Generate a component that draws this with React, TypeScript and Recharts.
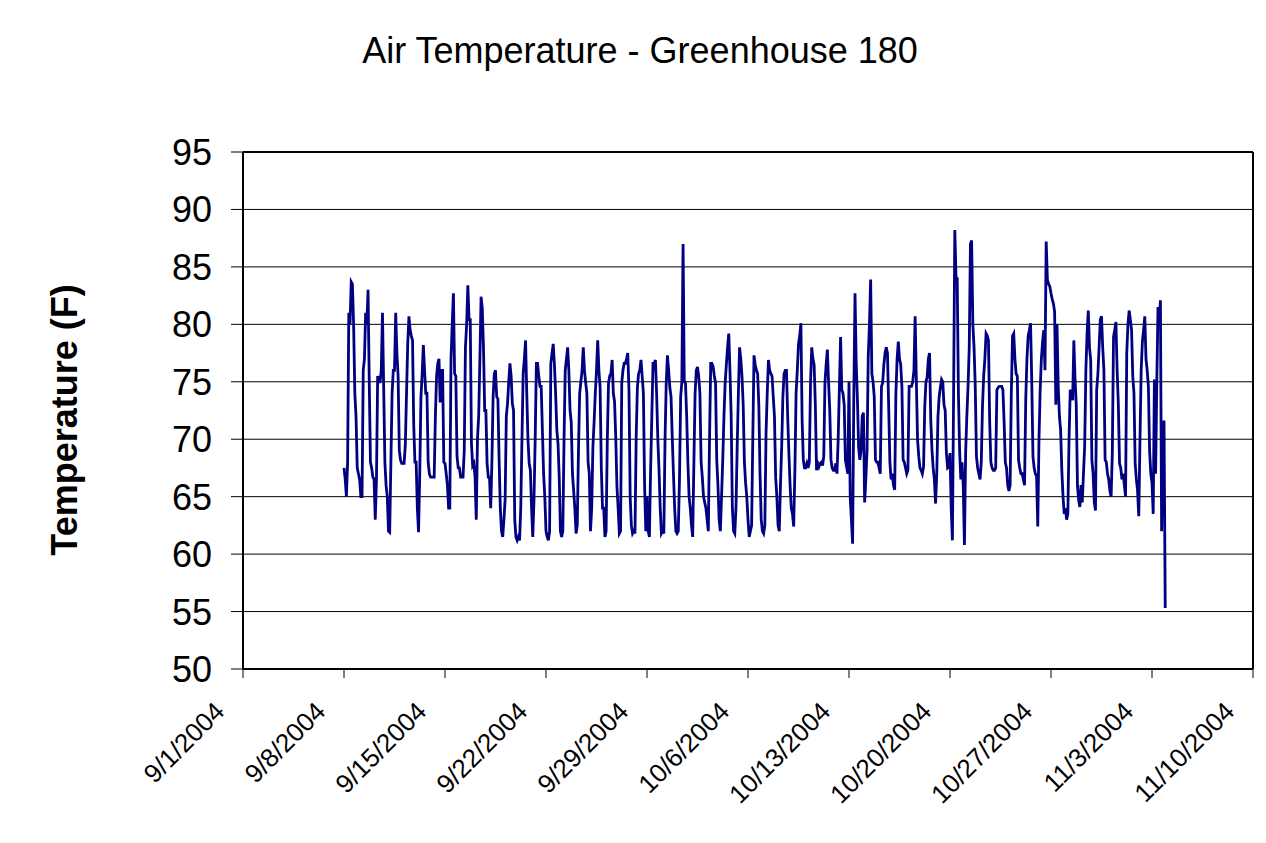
import { LineChart, Line, XAxis, YAxis, CartesianGrid, ReferenceLine } from "recharts";

// days are counted from 9/1/2004, readings every 2 hours starting 9/8 00:00
const firstDay = 7;
const stepDays = 2 / 24;

const tickDays = [0, 7, 14, 21, 28, 35, 42, 49, 56, 63, 70];
const tickLabels = [
  "9/1/2004", "9/8/2004", "9/15/2004", "9/22/2004", "9/29/2004", "10/6/2004",
  "10/13/2004", "10/20/2004", "10/27/2004", "11/3/2004", "11/10/2004",
];
const yTicks = [50, 55, 60, 65, 70, 75, 80, 85, 90, 95];

// 9/8 - 9/14
const week1 = [
  67.5, 66.5, 65, 68, 81, 80, 83.7, 83.5, 80, 74, 72, 67.5,
  67, 66.5, 65, 65, 76, 77, 81, 80, 83, 75, 68, 67.5,
  66.7, 66.5, 63, 66.5, 75.5, 75, 75, 76, 81, 74.5, 68, 66,
  65, 62, 61.9, 68, 74, 76, 76, 81, 77.5, 75.5, 69, 68.2,
  67.9, 67.9, 67.9, 69.5, 74, 78.3, 80.7, 79.5, 79, 78.6, 71.2, 68,
  68, 64, 61.9, 67, 73.7, 75.7, 78.2, 76, 74, 74, 68, 67,
  66.7, 66.7, 66.7, 66.7, 72, 75.5, 76.6, 77, 73.2, 76, 76, 68,
];
// 9/15 - 9/21
const week2 = [
  67.9, 67, 66, 64, 64, 77, 80, 82.7, 75.7, 75.5, 68.5, 67.5,
  67.5, 66.7, 66.7, 66.7, 69, 78, 80, 83.4, 80.4, 80.4, 69.6, 67.7,
  67.9, 66.7, 63, 70, 72, 76.9, 82.4, 81.4, 78, 72.5, 72.5, 67.9,
  66.7, 66.7, 64, 68, 73.7, 75.7, 76, 73.7, 73.5, 68.2, 64, 62,
  61.5, 63, 64.7, 72, 73.1, 75, 76.6, 75.5, 73.1, 72.5, 63, 61.5,
  61.2, 61.5, 61.2, 64, 70, 75.7, 77, 78.6, 74, 70, 67.9, 67.3,
  64, 61.5, 64.7, 70, 76.6, 76.6, 75.5, 74.6, 74.6, 70.8, 67, 65,
];
// 9/22 - 9/28
const week3 = [
  62, 61.5, 61.2, 62, 76.6, 77.5, 78.3, 76.5, 74, 70.8, 69.6, 66.7,
  62, 61.5, 62, 70, 76, 77, 78, 76, 72.5, 71.5, 67, 65.5,
  64, 61.8, 62.5, 69, 74, 75, 76, 78, 76, 74.9, 74, 68,
  67, 62, 64, 69.3, 71.5, 74, 76, 78.6, 76, 74.5, 67.5, 64,
  64, 61.5, 62, 70, 74.9, 75.5, 75.7, 76.9, 74, 73.3, 70.2, 65.9,
  64, 61.8, 62, 74.9, 76, 76.6, 76.6, 77, 77.5, 74.3, 65, 62.5,
  61.8, 62, 61.8, 70.2, 74.5, 75.7, 76, 76.9, 75.5, 74, 66, 62,
];
// 9/29 - 10/5
const week4 = [
  65, 62, 61.5, 67.3, 72, 76.6, 76.6, 76.9, 74, 70, 67.3, 64,
  61.8, 62, 61.8, 70, 74.9, 77.3, 76, 74.5, 73.7, 70.2, 67, 64,
  62, 61.8, 62, 66.4, 73.7, 75, 87, 75, 74.9, 72, 68, 65,
  64, 62.5, 61.5, 68, 74, 76, 76.3, 75.5, 74, 68, 66.7, 65,
  64.5, 64, 63, 62, 70, 76.6, 76.6, 76.3, 75.5, 74.9, 68.2, 66,
  63, 62, 65, 68.2, 72, 74.9, 76.5, 78, 79.2, 76, 72, 64,
  62, 61.8, 64, 69.3, 74, 78, 77, 75.5, 73, 68, 66.2, 65,
];
// 10/6 - 10/12
const week5 = [
  63, 61.5, 62, 62.5, 70.2, 77.3, 76.5, 76, 75.7, 73, 67, 63,
  62, 61.8, 62.5, 70.5, 74, 76.9, 76, 75.7, 75.5, 73.7, 72, 66.7,
  65, 62.5, 62, 66, 69.3, 73.7, 75.7, 76, 76, 72, 68.8, 66,
  64, 63.5, 62.4, 67.3, 74, 76, 78.3, 79, 80.1, 71.7, 68.2, 67.5,
  67.5, 67.9, 67.5, 68, 74.9, 78, 77, 76.5, 73, 67.3, 67.9, 67.6,
  67.9, 68, 67.7, 68.5, 74.9, 76.5, 77.8, 75, 72.5, 68.2, 67.5, 67.3,
  67.3, 67.9, 67, 70, 74.5, 78.9, 74.3, 74, 73, 68.2, 67.6, 67,
];
// 10/13 - 10/19
const week6 = [
  75, 65, 63, 60.9, 73.7, 82.7, 76.6, 73.5, 69.3, 68.2, 69, 72,
  72.3, 64.5, 66.5, 69, 77.2, 80, 83.9, 75.7, 75, 73.7, 68.2, 68,
  68, 67.5, 67, 74.6, 74.9, 76.5, 77.5, 78, 77.5, 72.8, 68, 66.5,
  67, 66, 65.6, 74, 77, 78.5, 77, 76.5, 74.6, 68.2, 68, 67.5,
  67, 67.3, 74.6, 74.6, 74.6, 75, 76, 80.7, 75.2, 70, 68.5, 67.5,
  67.3, 67, 67.6, 72.8, 75, 75.4, 77, 77.5, 71.7, 69.1, 67.5, 66.5,
  64.4, 67, 72, 73.7, 74.5, 75.2, 75, 73, 72.5, 68.8, 67.5, 67.6,
];
// 10/20 - 10/26
const week7 = [
  68.8, 64, 61.2, 74, 88.2, 84.1, 84, 74, 69, 66.5, 68, 66,
  60.8, 68.8, 72, 74.6, 78, 87, 87.3, 80, 78, 74.6, 68.5, 67.5,
  67, 66.5, 68, 72.8, 75.5, 77, 79.2, 79, 78.6, 71.5, 68, 67.5,
  67.3, 67.3, 67.5, 74.3, 74.5, 74.6, 74.6, 74.6, 74.3, 71.5, 68, 67.5,
  66, 65.5, 66, 74, 79, 79.2, 77, 75.7, 75.5, 68.2, 67.5, 67,
  67, 66.5, 66, 73.5, 77, 79, 79.5, 80.1, 75, 68.5, 67.5, 67,
  66.8, 62.4, 70, 74.3, 77, 78.5, 79.5, 76, 87.2, 83.9, 83.5, 83.3,
];
// 10/27 - 11/2
const week8 = [
  82.7, 82.2, 81.8, 81.1, 73, 80, 74.6, 72, 70.8, 67.3, 65, 63.5,
  64, 63, 63.5, 70, 74.3, 74, 73.4, 78.6, 75.2, 73, 66, 64.7,
  64.1, 66, 64.5, 67, 69.4, 76, 79.2, 81.2, 78, 76.9, 68.2, 67,
  64.5, 63.8, 74.3, 75.7, 78, 80.4, 80.7, 78, 76, 68.2, 68, 67,
  66.5, 65.5, 65, 68.8, 78.9, 79.5, 80.2, 76, 73, 67.9, 67.5, 66.5,
  67, 66, 65, 77.5, 80, 81.2, 80.4, 79.5, 75.5, 74, 67.9, 66.5,
  65.5, 63.3, 70, 76, 78.5, 79.5, 80.7, 77, 76, 74.6, 69, 67,
];
// 11/3
const week9 = [66.2, 63.5, 75.2, 67, 75, 81.5, 80, 82.1, 62, 71.5, 71.5, 55.3];

const temps = [...week1, ...week2, ...week3, ...week4, ...week5, ...week6, ...week7, ...week8, ...week9];
const data = temps.map((t, i) => ({ day: firstDay + i * stepDays, temp: t }));

const font = "'Liberation Sans', Arial, sans-serif";

function XTick(props: any) {
  const { x, y, payload } = props;
  const label = tickLabels[tickDays.indexOf(payload.value)];
  const ax = x - 17;
  const ay = y + 33;
  return (
    <text x={ax} y={ay} textAnchor="end" fontSize={26} fontFamily={font} fill="#000"
      transform={`rotate(-45, ${ax}, ${ay})`}>
      {label}
    </text>
  );
}

function YTick(props: any) {
  const { x, y, payload } = props;
  return (
    <text x={x - 17} y={y + 13} textAnchor="end" fontSize={36} fontFamily={font} fill="#000">
      {payload.value}
    </text>
  );
}

export default function App() {
  return (
    <div style={{ margin: -8, width: 1266, height: 843, position: "relative", overflow: "hidden", background: "#fff" }}>
      <div style={{ position: "absolute", left: 5, top: 2, width: 1400, height: 1000, border: "2px solid #000" }} />
      <LineChart width={1266} height={843} data={data} margin={{ top: 152, right: 13, left: 0, bottom: 0 }}>
        <CartesianGrid vertical={false} stroke="#000" strokeWidth={1} />
        <XAxis
          dataKey="day"
          type="number"
          domain={[0, 70]}
          ticks={tickDays}
          interval={0}
          height={174}
          tickSize={9}
          tick={<XTick />}
          axisLine={{ stroke: "#000", strokeWidth: 2 }}
          tickLine={{ stroke: "#000" }}
        />
        <YAxis
          domain={[50, 95]}
          ticks={yTicks}
          interval={0}
          width={243}
          tickSize={12}
          tick={<YTick />}
          axisLine={{ stroke: "#000", strokeWidth: 2 }}
          tickLine={{ stroke: "#000" }}
        />
        <ReferenceLine x={70} stroke="#000" strokeWidth={2} />
        <ReferenceLine y={95} stroke="#000" strokeWidth={2} />
        <Line
          type="linear"
          dataKey="temp"
          stroke="#000080"
          strokeWidth={2.8}
          dot={false}
          isAnimationActive={false}
        />
      </LineChart>
      <svg width={1266} height={843} style={{ position: "absolute", left: 0, top: 0, pointerEvents: "none" }}>
        <text x={640} y={63} textAnchor="middle" fontSize={36} fontFamily={font} fill="#000">
          Air Temperature - Greenhouse 180
        </text>
        <text x={77} y={420} textAnchor="middle" fontSize={36} fontWeight="bold" fontFamily={font} fill="#000"
          transform="rotate(-90, 77, 420)">
          Temperature (F)
        </text>
      </svg>
    </div>
  );
}
